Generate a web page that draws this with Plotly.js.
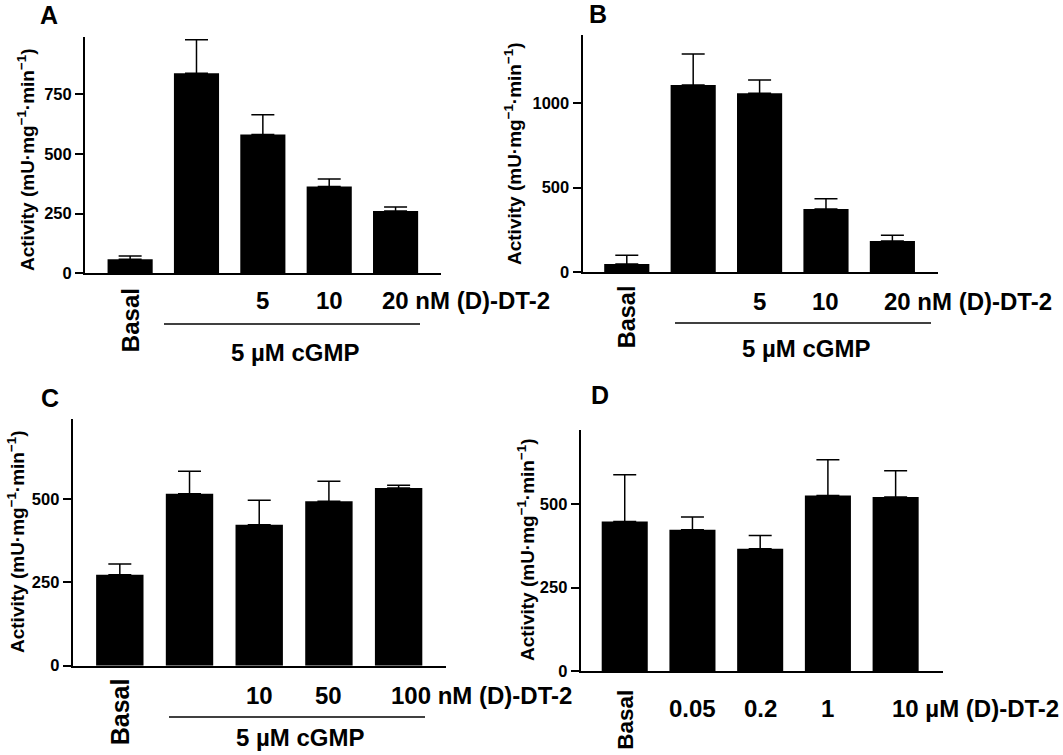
<!DOCTYPE html>
<html>
<head>
<meta charset="utf-8">
<script src="https://cdn.plot.ly/plotly-3.0.1.min.js"></script>
<style>html,body{margin:0;padding:0;background:#fff;}#chart{width:1063px;height:755px;}</style>
</head>
<body>
<div id="chart"></div>
<script>
// ---- Data ----
const catsA = ['Basal', 'cGMP', 'cGMP + 5 nM', 'cGMP + 10 nM', 'cGMP + 20 nM'];
const valsA = [59, 838, 581, 364, 261];
const errA  = [14, 141, 83, 31, 17];
const labelsA = ['5', '10', '20 nM (D)-DT-2'];

const catsB = ['Basal', 'cGMP', 'cGMP + 5 nM', 'cGMP + 10 nM', 'cGMP + 20 nM'];
const valsB = [47, 1107, 1057, 373, 183];
const errB  = [52, 183, 79, 61, 34];
const labelsB = ['5', '10', '20 nM (D)-DT-2'];

const catsC = ['Basal', 'cGMP', 'cGMP + 10 nM', 'cGMP + 50 nM', 'cGMP + 100 nM'];
const valsC = [273, 516, 423, 493, 533];
const errC  = [32, 67, 73, 60, 8];
const labelsC = ['10', '50', '100 nM (D)-DT-2'];

const catsD = ['Basal', '0.05 µM', '0.2 µM', '1 µM', '10 µM'];
const valsD = [448, 423, 366, 526, 521];
const errD  = [140, 38, 40, 107, 79];
const labelsD = ['0.05', '0.2', '1', '10 µM (D)-DT-2'];

const ticksA = [0, 250, 500, 750];
const ticksB = [0, 500, 1000];
const ticksC = [0, 250, 500];
const ticksD = [0, 250, 500];

const yTitle = 'Activity (mU·mg<sup>−1</sup>·min<sup>−1</sup>)';
const cgmpText = '5 µM cGMP';

// ---- Layout helpers ----
const W = 1063, H = 755;
const px = x => x / W;
const py = y => 1 - y / H;
const FONT = 'Liberation Sans, Arial, Helvetica, sans-serif';

function barTrace(cats, vals, errs, ax) {
  return {
    type: 'bar', x: cats, y: vals,
    xaxis: 'x' + ax, yaxis: 'y' + ax,
    marker: {color: '#000', line: {width: 0}},
    error_y: {type: 'data', array: errs, symmetric: false, arrayminus: errs.map(() => 0),
              color: '#000', thickness: 1.5, width: 11.5},
    showlegend: false, hoverinfo: 'skip'
  };
}

const data = [
  barTrace(catsA, valsA, errA, ''),
  barTrace(catsB, valsB, errB, '2'),
  barTrace(catsC, valsC, errC, '3'),
  barTrace(catsD, valsD, errD, '4')
];

function xAx(l, r, range, anchor) {
  return {domain: [px(l), px(r)], range: range, anchor: anchor, type: 'category',
          showline: true, linecolor: '#000', linewidth: 2, showticklabels: false,
          ticks: '', showgrid: false, zeroline: false, fixedrange: true};
}
function yAx(top, bottom, range, tickvals, anchor) {
  return {domain: [py(bottom), py(top)], range: range, anchor: anchor,
          showline: true, linecolor: '#000', linewidth: 2,
          ticks: 'outside', ticklen: 8, tickwidth: 2, tickcolor: '#000',
          tickvals: tickvals, ticktext: tickvals.map(String),
          tickfont: {family: FONT, size: 16.5, color: '#000', weight: 'bold'},
          showgrid: false, zeroline: false, fixedrange: true};
}

const annotations = [];
const shapes = [];
function txt(o, size) {
  annotations.push(Object.assign({showarrow: false,
    font: {family: FONT, size: size || 24, color: '#000', weight: 'bold'}}, o));
}

// panel letters
txt({text: 'A', xref: 'paper', yref: 'paper', x: px(49), y: py(15), xanchor: 'center', yanchor: 'middle'}, 25);
txt({text: 'B', xref: 'paper', yref: 'paper', x: px(598), y: py(14), xanchor: 'center', yanchor: 'middle'}, 25);
txt({text: 'C', xref: 'paper', yref: 'paper', x: px(50), y: py(398), xanchor: 'center', yanchor: 'middle'}, 25);
txt({text: 'D', xref: 'paper', yref: 'paper', x: px(600), y: py(395), xanchor: 'center', yanchor: 'middle'}, 25);

// y titles
function ytitle(x, y) {
  txt({text: yTitle, xref: 'paper', yref: 'paper', x: px(x), y: py(y), xanchor: 'center', yanchor: 'middle',
       textangle: -90}, 19);
}
ytitle(26, 160);
ytitle(513, 154);
ytitle(16, 542);
ytitle(526, 550);

// category labels under the x axes
function catLabels(xref, basalTop, numY, labels, firstIdx, longShift, basalSize) {
  txt({text: 'Basal', xref: xref, yref: 'paper', x: 0, y: py(basalTop), xanchor: 'center', yanchor: 'top',
       textangle: -90}, basalSize);
  labels.forEach((t, i) => {
    const idx = firstIdx + i;
    if (i === labels.length - 1) {
      txt({text: t, xref: xref, yref: 'paper', x: idx, y: py(numY), xanchor: 'left', yanchor: 'middle', xshift: longShift});
    } else {
      txt({text: t, xref: xref, yref: 'paper', x: idx, y: py(numY), xanchor: 'center', yanchor: 'middle'});
    }
  });
}
catLabels('x', 286, 300, labelsA, 2, -16, 24);
catLabels('x2', 283, 301, labelsB, 2, -10, 23.5);
catLabels('x3', 676, 695, labelsC, 2, -10, 25);
catLabels('x4', 688, 708, labelsD, 1, -6, 22.5);

// cGMP brackets
function cgmp(x0, x1, yLine, yText) {
  shapes.push({type: 'line', xref: 'paper', yref: 'paper', x0: px(x0), x1: px(x1), y0: py(yLine), y1: py(yLine),
               line: {color: '#000', width: 1.5}});
  txt({text: cgmpText, xref: 'paper', yref: 'paper', x: px((x0 + x1) / 2 + 3), y: py(yText), xanchor: 'center', yanchor: 'middle'});
}
cgmp(164, 420, 324, 352);
cgmp(675, 931, 323, 348);
cgmp(169, 425, 717, 737);

const layout = {
  width: W, height: H,
  margin: {l: 0, r: 0, t: 0, b: 0},
  paper_bgcolor: '#fff', plot_bgcolor: '#fff',
  font: {family: FONT, color: '#000'},
  bargap: 0.32,
  showlegend: false,
  xaxis:  xAx(85, 440.7, [-0.68, 4.68], 'y'),
  yaxis:  yAx(37, 273.3, [0, 990], ticksA, 'x'),
  xaxis2: xAx(582.5, 938, [-0.667, 4.687], 'y2'),
  yaxis2: yAx(35.4, 272, [0, 1400], ticksB, 'x2'),
  xaxis3: xAx(72.7, 445.8, [-0.676, 4.677], 'y3'),
  yaxis3: yAx(419, 665.7, [0, 740], ticksC, 'x3'),
  xaxis4: xAx(580.7, 942.7, [-0.65, 4.695], 'y4'),
  yaxis4: yAx(430, 671, [0, 722], ticksD, 'x4'),
  annotations: annotations,
  shapes: shapes
};

Plotly.newPlot('chart', data, layout, {displayModeBar: false, staticPlot: true});
</script>
</body>
</html>
